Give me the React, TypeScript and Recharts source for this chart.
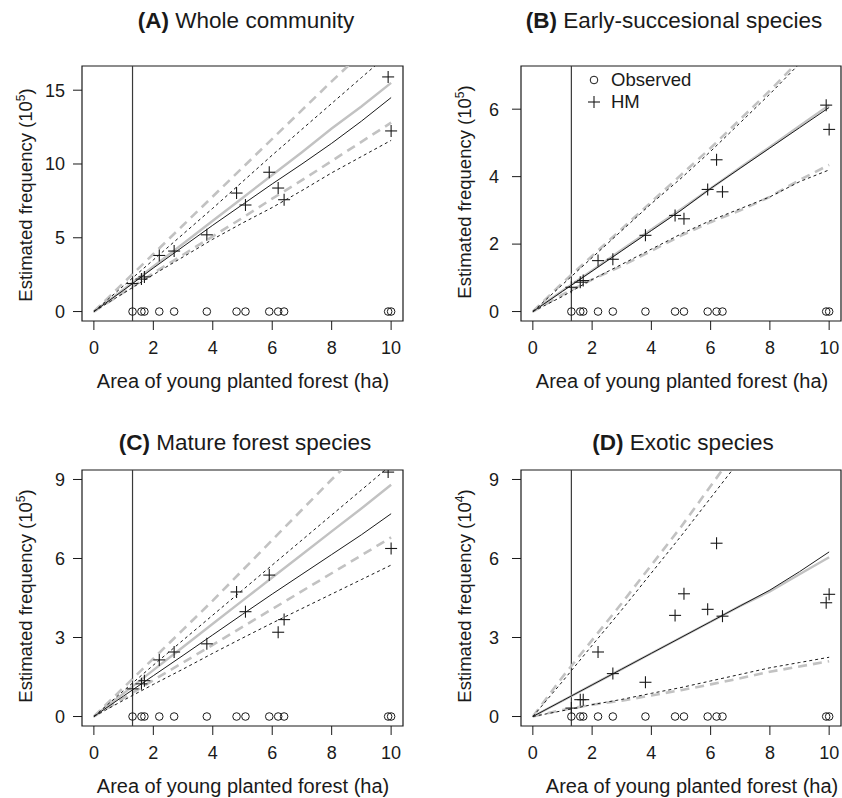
import { ComposedChart, Line, Scatter, XAxis, YAxis, ReferenceLine, ReferenceArea } from "recharts";

// site areas (ha) shared by all four panels
const siteArea = [1.3, 1.6, 1.7, 2.2, 2.7, 3.8, 4.8, 5.1, 5.9, 6.2, 6.4, 9.9, 10.0];
const observed = [0, 0, 0, 0, 0, 0, 0, 0, 0, 0, 0, 0, 0];
const minArea = 1.3;

// x grid for the fitted curves
const curveX = [0, 1, 2, 3, 4, 5, 6, 7, 8, 9, 10];
const xTicks = [0, 2, 4, 6, 8, 10];

// (A) whole community, 10^5
const aHM = [1.9, 2.2, 2.35, 3.8, 4.1, 5.2, 8.03, 7.22, 9.44, 8.37, 7.58, 15.9, 12.24];
const aMeanBlack = [0, 1.45, 2.95, 4.4, 5.85, 7.25, 8.65, 10.0, 11.4, 12.9, 14.5];
const aMeanGray = [0, 1.5, 3.05, 4.6, 6.15, 7.7, 9.25, 10.8, 12.4, 13.9, 15.5];
const aUpperBlack = [0, 1.75, 3.5, 5.25, 7.0, 8.8, 10.6, 12.35, 14.1, 15.85, 17.6];
const aUpperGray = [0, 1.95, 3.9, 5.85, 7.8, 9.75, 11.7, 13.65, 15.6, 17.5, 19.5];
const aLowerBlack = [0, 1.25, 2.5, 3.7, 4.9, 6.0, 7.05, 8.2, 9.4, 10.5, 11.6];
const aLowerGray = [0, 1.3, 2.6, 3.85, 5.1, 6.35, 7.65, 8.9, 10.2, 11.5, 12.8];

// (B) early-successional species, 10^5
const bHM = [0.72, 0.87, 0.92, 1.51, 1.55, 2.26, 2.85, 2.75, 3.62, 4.5, 3.55, 6.12, 5.4];
const bMeanBlack = [0, 0.6, 1.2, 1.8, 2.4, 3.0, 3.65, 4.25, 4.85, 5.45, 6.05];
const bMeanGray = [0, 0.62, 1.22, 1.83, 2.43, 3.03, 3.65, 4.27, 4.88, 5.5, 6.12];
const bUpperBlack = [0, 0.8, 1.6, 2.4, 3.2, 3.95, 4.75, 5.6, 6.45, 7.35, 8.2];
const bUpperGray = [0, 0.85, 1.65, 2.45, 3.25, 4.05, 4.85, 5.7, 6.55, 7.45, 8.3];
const bLowerBlack = [0, 0.45, 0.95, 1.4, 1.85, 2.3, 2.7, 3.05, 3.4, 3.85, 4.2];
const bLowerGray = [0, 0.5, 0.95, 1.35, 1.8, 2.25, 2.65, 3.0, 3.4, 3.9, 4.35];

// (C) mature forest species, 10^5
const cHM = [1.05, 1.24, 1.36, 2.15, 2.45, 2.76, 4.73, 3.98, 5.37, 3.2, 3.68, 9.28, 6.38];
const cMeanBlack = [0, 0.78, 1.55, 2.32, 3.1, 3.88, 4.65, 5.4, 6.15, 6.9, 7.7];
const cMeanGray = [0, 0.88, 1.76, 2.64, 3.52, 4.4, 5.28, 6.15, 7.03, 7.9, 8.8];
const cUpperBlack = [0, 0.98, 1.95, 2.9, 3.85, 4.8, 5.75, 6.7, 7.65, 8.6, 9.55];
const cUpperGray = [0, 1.1, 2.2, 3.3, 4.4, 5.55, 6.7, 7.85, 9.0, 10.1, 11.2];
const cLowerBlack = [0, 0.62, 1.22, 1.8, 2.4, 2.98, 3.55, 4.1, 4.65, 5.2, 5.75];
const cLowerGray = [0, 0.7, 1.38, 2.05, 2.72, 3.4, 4.08, 4.76, 5.44, 6.12, 6.8];

// (D) exotic species, 10^4
const dHM = [0.32, 0.64, 0.64, 2.45, 1.63, 1.3, 3.84, 4.66, 4.07, 6.58, 3.81, 4.32, 4.64];
const dMeanBlack = [0, 0.6, 1.2, 1.8, 2.4, 3.0, 3.6, 4.2, 4.8, 5.5, 6.25];
const dMeanGray = [0, 0.6, 1.2, 1.8, 2.4, 3.0, 3.6, 4.2, 4.75, 5.4, 6.05];
const dUpperBlack = [0, 1.33, 2.7, 4.05, 5.45, 6.85, 8.3, 9.75, 11.2, 12.7, 14.2];
const dUpperGray = [0, 1.5, 2.9, 4.3, 5.75, 7.2, 8.75, 10.3, 11.9, 13.5, 15.1];
const dLowerBlack = [0, 0.22, 0.45, 0.65, 0.88, 1.1, 1.35, 1.6, 1.85, 2.05, 2.25];
const dLowerGray = [0, 0.25, 0.45, 0.6, 0.8, 1.0, 1.22, 1.45, 1.7, 1.9, 2.1];

const FONT = '"Liberation Sans", Arial, Helvetica, sans-serif';
const INK = "#1a1a1a";
const GRAY = "#c2c2c2";

const curveRows = (mb: number[], mg: number[], ub: number[], ug: number[], lb: number[], lg: number[]) =>
  curveX.map((x, i) => ({ x, mb: mb[i], mg: mg[i], ub: ub[i], ug: ug[i], lb: lb[i], lg: lg[i] }));
const pointRows = (ys: number[]) => siteArea.map((x, i) => ({ x, y: ys[i] }));

const panels = [
  {
    id: "A", name: "Whole community", exp: "5", hm: aHM, yDomain: [-0.64, 16.64], yTicks: [0, 5, 10, 15],
    curves: curveRows(aMeanBlack, aMeanGray, aUpperBlack, aUpperGray, aLowerBlack, aLowerGray),
    left: 0, top: 0, margin: { top: 66, right: 18, bottom: 38, left: 42 }, yGap: 8,
    title: [246, 21], xLab: [243, 381], yLab: [25, 195],
  },
  {
    id: "B", name: "Early-succesional species", exp: "5", hm: bHM, yDomain: [-0.28, 7.28], yTicks: [0, 2, 4, 6],
    curves: curveRows(bMeanBlack, bMeanGray, bUpperBlack, bUpperGray, bLowerBlack, bLowerGray),
    left: 421, top: 0, margin: { top: 66, right: 1, bottom: 38, left: 60 }, yGap: 13,
    title: [674, 21], xLab: [682, 381], yLab: [464, 192],
  },
  {
    id: "C", name: "Mature forest species", exp: "5", hm: cHM, yDomain: [-0.36, 9.36], yTicks: [0, 3, 6, 9],
    curves: curveRows(cMeanBlack, cMeanGray, cUpperBlack, cUpperGray, cLowerBlack, cLowerGray),
    left: 0, top: 399, margin: { top: 71, right: 18, bottom: 32, left: 42 }, yGap: 8,
    title: [245, 443], xLab: [243, 786], yLab: [25, 596],
  },
  {
    id: "D", name: "Exotic species", exp: "4", hm: dHM, yDomain: [-0.36, 9.36], yTicks: [0, 3, 6, 9],
    curves: curveRows(dMeanBlack, dMeanGray, dUpperBlack, dUpperGray, dLowerBlack, dLowerGray),
    left: 421, top: 399, margin: { top: 71, right: 1, bottom: 32, left: 60 }, yGap: 13,
    title: [683, 443], xLab: [692, 786], yLab: [464, 596],
  },
];

const OpenCircle = (p: any) => <circle cx={p.cx} cy={p.cy} r={3.8} fill="none" stroke={INK} strokeWidth={1} />;
const Plus = (p: any) => (
  <g stroke={INK} strokeWidth={1.1}>
    <line x1={p.cx - 6} y1={p.cy} x2={p.cx + 6} y2={p.cy} />
    <line x1={p.cx} y1={p.cy - 6} x2={p.cx} y2={p.cy + 6} />
  </g>
);

const tickStyle = { fontSize: 18, fill: INK, fontFamily: FONT };

function Panel({ p }: { p: (typeof panels)[number] }) {
  const [y0, y1] = p.yDomain;
  return (
    <div style={{ position: "absolute", left: p.left, top: p.top }}>
      <ComposedChart width={421} height={399} data={p.curves} margin={p.margin}>
        <XAxis
          type="number"
          dataKey="x"
          domain={[-0.4, 10.4]}
          ticks={xTicks}
          allowDataOverflow
          axisLine={false}
          tickLine={{ stroke: INK }}
          tickSize={9}
          tickMargin={11}
          height={40}
          tick={tickStyle}
          interval={0}
        />
        <YAxis
          type="number"
          domain={[y0, y1]}
          ticks={p.yTicks}
          allowDataOverflow
          axisLine={false}
          tickLine={{ stroke: INK }}
          tickSize={9}
          tickMargin={p.yGap}
          width={40}
          tick={tickStyle}
          interval={0}
        />
        <ReferenceArea x1={-0.4} x2={10.4} y1={y0} y2={y1} fill="none" stroke={INK} strokeWidth={1.2} />
        <ReferenceLine x={minArea} stroke="#3a3a3a" strokeWidth={1.2} />
        <Line type="linear" dataKey="ug" stroke={GRAY} strokeWidth={2.6} strokeDasharray="9 6" dot={false} isAnimationActive={false} />
        <Line type="linear" dataKey="lg" stroke={GRAY} strokeWidth={2.6} strokeDasharray="9 6" dot={false} isAnimationActive={false} />
        <Line type="linear" dataKey="mg" stroke={GRAY} strokeWidth={2.4} dot={false} isAnimationActive={false} />
        <Line type="linear" dataKey="ub" stroke={INK} strokeWidth={1} strokeDasharray="3 3" dot={false} isAnimationActive={false} />
        <Line type="linear" dataKey="lb" stroke={INK} strokeWidth={1} strokeDasharray="3 3" dot={false} isAnimationActive={false} />
        <Line type="linear" dataKey="mb" stroke={INK} strokeWidth={1} dot={false} isAnimationActive={false} />
        <Scatter data={pointRows(observed)} dataKey="y" shape={OpenCircle} isAnimationActive={false} />
        <Scatter data={pointRows(p.hm)} dataKey="y" shape={Plus} isAnimationActive={false} />
      </ComposedChart>
    </div>
  );
}

const centered = (x: number, y: number, rotate = false) => ({
  position: "absolute" as const,
  left: x,
  top: y,
  transform: "translate(-50%, -50%)" + (rotate ? " rotate(-90deg)" : ""),
  whiteSpace: "nowrap" as const,
  fontFamily: FONT,
  color: INK,
  lineHeight: 1,
});

export default function App() {
  return (
    <div style={{ position: "relative", width: 842, height: 798, background: "#fff", fontFamily: FONT }}>
      <style>{"body{margin:0}"}</style>
      {panels.map((p) => (
        <Panel key={p.id} p={p} />
      ))}
      {panels.map((p) => (
        <div key={p.id + "-t"}>
          <div style={{ ...centered(p.title[0], p.title[1]), fontSize: 22.5 }}>
            <b>({p.id})</b> {p.name}
          </div>
          <div style={{ ...centered(p.xLab[0], p.xLab[1]), fontSize: 20 }}>Area of young planted forest (ha)</div>
          <div style={{ ...centered(p.yLab[0], p.yLab[1], true), fontSize: 18.5 }}>
            Estimated frequency (10<sup style={{ fontSize: 12 }}>{p.exp}</sup>)
          </div>
        </div>
      ))}
      {/* legend inside panel B */}
      <div style={{ position: "absolute", left: 587, top: 69, fontSize: 18.5, color: INK, lineHeight: "22px" }}>
        <div style={{ display: "flex", alignItems: "center" }}>
          <svg width={14} height={14} style={{ marginRight: 10 }}>
            <circle cx={7} cy={7} r={3.8} fill="none" stroke={INK} />
          </svg>
          Observed
        </div>
        <div style={{ display: "flex", alignItems: "center" }}>
          <svg width={14} height={14} style={{ marginRight: 10 }}>
            <line x1={1} y1={7} x2={13} y2={7} stroke={INK} strokeWidth={1.1} />
            <line x1={7} y1={1} x2={7} y2={13} stroke={INK} strokeWidth={1.1} />
          </svg>
          HM
        </div>
      </div>
    </div>
  );
}
